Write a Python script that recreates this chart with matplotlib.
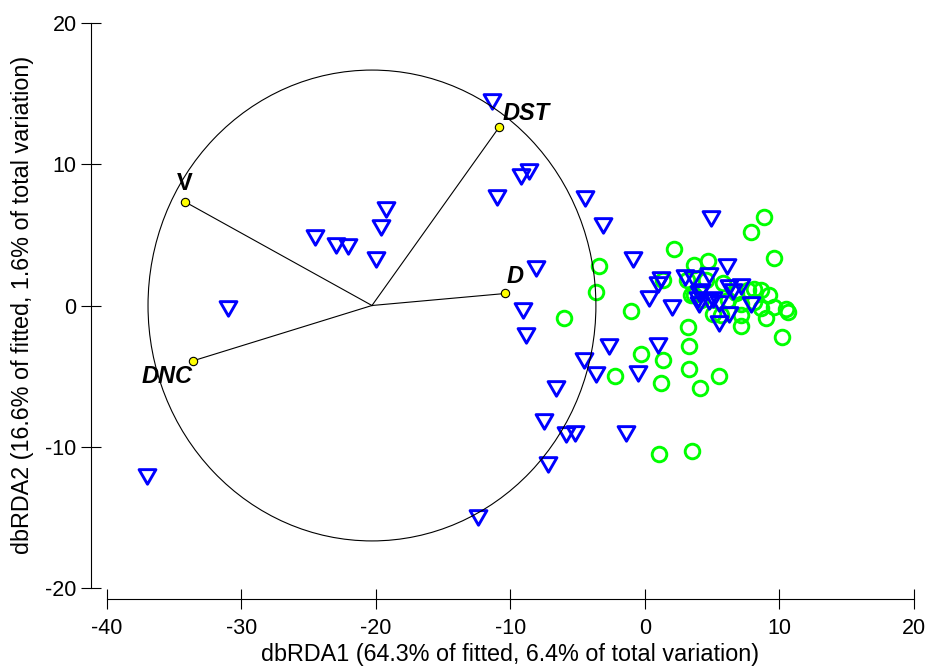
import numpy as np
import matplotlib.pyplot as plt
from matplotlib.patches import Circle
from matplotlib.path import Path

plt.rcParams['font.family'] = ['Liberation Sans', 'DejaVu Sans']
plt.rcParams['axes.unicode_minus'] = False

# site scores, group 1 (blue triangles)
tri_x = [-37.0, -31.0, -24.5, -22.97, -22.06, -19.23, -19.63, -19.98, -12.42, -11.41,
         -11.0, -9.22, -8.65, -8.1, -9.1, -8.82, -7.51, -7.21, -6.59, -5.87,
         -5.18, -4.46, -4.54, -3.64, -3.15, -2.7, -1.44, -0.92, -0.54, 0.94,
         0.3, 1.98, 1.19, 0.99, 2.97, 3.6, 4.78, 4.88, 6.12, 3.92,
         4.0, 4.2, 4.04, 4.78, 5.03, 5.48, 6.27, 6.52, 7.14, 7.9,
         6.27, 5.52]
tri_y = [-11.9, 0.0, 5.0, 4.44, 4.35, 6.94, 5.69, 3.4, -14.8, 14.6,
         7.84, 9.3, 9.65, 2.76, -0.2, -1.95, -8.03, -11.05, -5.67, -8.96,
         -8.85, 7.72, -3.74, -4.73, 5.83, -2.72, -8.9, 3.4, -4.6, -2.68,
         0.65, 0.02, 1.99, 1.68, 2.18, 2.1, 2.3, 6.3, 2.95, 0.57,
         1.0, 1.2, 0.22, 0.45, 0.57, 0.34, 1.45, 1.17, 1.52, 0.25,
         -0.48, -1.1]

# site scores, group 2 (green circles)
circ_x = [-6.05, -3.44, -3.64, -2.25, -1.04, -0.32, 1.35, 1.16, 1.06, 3.47,
          3.17, 3.3, 3.3, 4.09, 5.5, 2.12, 3.67, 4.66, 3.12, 1.31,
          3.67, 4.16, 5.03, 5.65, 6.15, 7.14, 7.14, 7.14, 7.64, 8.13,
          8.13, 8.62, 9.0, 9.24, 9.61, 10.19, 10.6, 10.48, 9.61, 7.88,
          8.82, 4.5, 5.8, 6.8, 8.6, 3.42]
circ_y = [-0.85, 2.8, 0.96, -4.98, -0.38, -3.42, -3.82, -5.5, -10.5, -10.28,
          -1.5, -2.88, -4.46, -5.85, -5.0, 4.03, 2.85, 3.15, 1.79, 1.79,
          0.73, 0.37, -0.57, -0.69, 0.37, -1.46, -0.69, 0.14, 1.08, 1.2,
          0.26, 1.08, -0.85, 0.73, -0.1, -2.22, -0.45, -0.26, 3.39, 5.2,
          6.27, 1.8, 1.6, 0.9, -0.2, 0.73]

# predictor vectors
vec_names = ['V', 'DST', 'D', 'DNC']
vec_x = [-34.2, -10.83, -10.38, -33.63]
vec_y = [7.33, 12.63, 0.85, -3.92]
origin = (-20.3, 0.0)
circle_r = 16.65

fig = plt.figure(figsize=(9.29, 6.71), dpi=100)
ax = fig.add_axes([107 / 929, 82.7 / 671, 807 / 929, 565.6 / 671])

tri_marker = Path([(-1, 0.577), (1, 0.577), (0, -1.155), (-1, 0.577)],
                  [Path.MOVETO, Path.LINETO, Path.LINETO, Path.CLOSEPOLY])

ax.plot(circ_x, circ_y, ls='none', marker='o', ms=10.5, mfc='none',
        mec=(0, 1, 0), mew=2.1, zorder=2)
ax.plot(tri_x, tri_y, ls='none', marker=tri_marker, ms=14, mfc='none',
        mec=(0, 0, 1), mew=2.1, zorder=3)

ax.add_patch(Circle(origin, circle_r, fill=False, ec='black', lw=0.8, zorder=4))
for vx, vy in zip(vec_x, vec_y):
    ax.plot([origin[0], vx], [origin[1], vy], color='black', lw=0.8, zorder=4)
ax.plot(vec_x, vec_y, ls='none', marker='o', ms=6, mfc='#ffff00', mec='black',
        mew=0.8, zorder=5)

# label offset (points), alignment, style
offsets = {'V': ((0, 13), 'center', 'normal'), 'DST': ((2.5, 10), 'left', 'italic'),
           'D': ((1.2, 12), 'left', 'italic'), 'DNC': ((0, -11), 'right', 'italic')}
for name, vx, vy in zip(vec_names, vec_x, vec_y):
    off, ha, st = offsets[name]
    ax.annotate(name, (vx, vy), xytext=off, textcoords='offset points',
                ha=ha, va='center', fontsize=17, fontweight='bold',
                fontstyle=st, zorder=6)

ax.set_xlim(-40, 20)
ax.set_ylim(-20, 20)
ax.set_xticks([-40, -30, -20, -10, 0, 10, 20])
ax.set_yticks([-20, -10, 0, 10, 20])
for s in ['top', 'right']:
    ax.spines[s].set_visible(False)
ax.spines['left'].set_position(('outward', 11.5))
ax.spines['bottom'].set_position(('outward', 7.9))
ax.spines['left'].set_linewidth(0.8)
ax.spines['bottom'].set_linewidth(0.8)
ax.tick_params(direction='inout', length=13.7, width=0.8, labelsize=15.5)
ax.tick_params(axis='x', pad=6.5)
ax.tick_params(axis='y', pad=3.5)

fig.text(510 / 929, 1 - 655 / 671, 'dbRDA1 (64.3% of fitted, 6.4% of total variation)',
         ha='center', va='center', fontsize=16.8)
fig.text(23 / 929, 1 - 305 / 671, 'dbRDA2 (16.6% of fitted, 1.6% of total variation)',
         ha='center', va='center', rotation=90, fontsize=16.8)

fig.savefig('out.png', dpi=100)
